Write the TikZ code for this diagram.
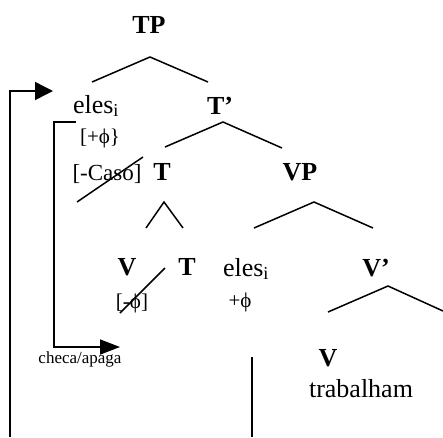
\documentclass[tikz,border=0pt]{standalone}
\usepackage{fontspec}
\setmainfont{Liberation Serif}
\usetikzlibrary{arrows.meta}
\begin{document}
\begin{tikzpicture}[x=1pt,y=-1pt,line width=1.5pt,
  cat/.style={font=\fontsize{26}{26}\selectfont\bfseries,anchor=base,inner sep=0pt},
  word/.style={font=\fontsize{26}{26}\selectfont,anchor=base,inner sep=0pt},
  feat/.style={font=\fontsize{21}{21}\selectfont,anchor=base,inner sep=0pt},
  note/.style={font=\fontsize{17}{17}\selectfont,anchor=base,inner sep=0pt},
  branch/.style={line width=1.5pt},
  strike/.style={line width=1.5pt},
  bigtip/.style={-{Triangle[length=18pt,width=18pt]}},
  smalltip/.style={-{Triangle[length=20pt,width=15pt]}}]
\useasboundingbox (0,0) rectangle (443,437);

% labels
\node[cat]  (TP)    at (149,33)  {TP};
\node[word] (elesA) at (96,113)  {eles\textsubscript{i}};
\node[feat] (phiA)  at (100,143) {[+ϕ\}};
\node[feat,font=\fontsize{23}{23}\selectfont] (caso) at (107,180) {[-Caso]};
\node[cat]  (Tbar)  at (220,114) {T’};
\node[cat]  (T)     at (162,180) {T};
\node[cat]  (VP)    at (300,180) {VP};
\node[cat]  (V)     at (127,275) {V};
\node[cat]  (Tlow)  at (187,275) {T};
\node[feat] (phiV)  at (132,308) {[-ϕ]};
\node[word] (elesB) at (246,276) {eles\textsubscript{i}};
\node[feat] (phiB)  at (240,307) {+ϕ};
\node[cat]  (Vbar)  at (376,276) {V’};
\node[cat]  (Vlow)  at (328,366) {V};
\node[word] (verb)  at (361,397) {trabalham};
\node[note] (check) at (80,363)  {checa/apaga};

% branch points
\coordinate (tpTop) at (150,57);  \coordinate (tpL) at (92,82);   \coordinate (tpR) at (208,82);
\coordinate (tbTop) at (223,122); \coordinate (tbL) at (165,147); \coordinate (tbR) at (282,148);
\coordinate (tTop) at (164,202);  \coordinate (tL) at (146,228);  \coordinate (tR) at (183,228);
\coordinate (vpTop) at (314,202); \coordinate (vpL) at (254,228); \coordinate (vpR) at (373,228);
\coordinate (vbTop) at (388,286); \coordinate (vbL) at (328,312); \coordinate (vbR) at (443,311);

\draw[branch] (tpL) -- (tpTop) -- (tpR);
\draw[branch] (tbL) -- (tbTop) -- (tbR);
\draw[branch] (tL) -- (tTop) -- (tR);
\draw[branch] (vpL) -- (vpTop) -- (vpR);
\draw[branch] (vbL) -- (vbTop) -- (vbR);

% struck-out features
\coordinate (casoA) at (77,202);  \coordinate (casoB) at (143,157);
\coordinate (phiVa) at (120,313); \coordinate (phiVb) at (165,268);
\draw[strike] (casoA) -- (casoB);
\draw[strike] (phiVa) -- (phiVb);

% movement and checking arrows
\coordinate (outerFoot) at (10,437); \coordinate (outerTip) at (53,91);
\draw[bigtip] (outerFoot) -- (outerFoot |- outerTip) -- (outerTip);
\coordinate (innerTop) at (76,122); \coordinate (innerTip) at (120,347);
\draw[smalltip] (innerTop) -- (54,122) -- (54,347) -- (innerTip);
\coordinate (traceTop) at (252,357); \coordinate (traceFoot) at (252,437);
\draw (traceTop) -- (traceFoot);
\end{tikzpicture}
\end{document}
